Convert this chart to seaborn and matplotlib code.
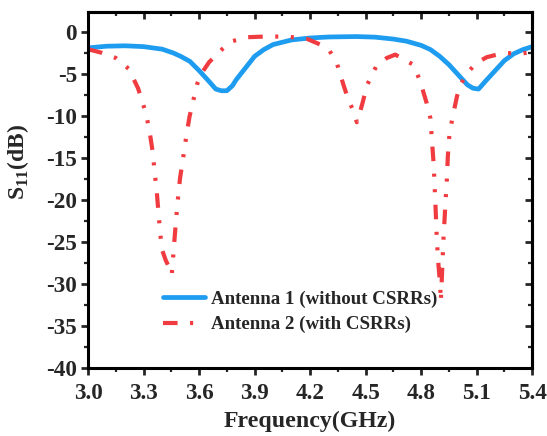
import numpy as np
import pandas as pd
import matplotlib
matplotlib.use("Agg")
import matplotlib.pyplot as plt
import seaborn as sns
from matplotlib.ticker import MultipleLocator

# Antenna 1 (without CSRRs)
freq1 = [3.0, 3.1, 3.2, 3.3, 3.4, 3.46, 3.5, 3.55, 3.6, 3.65, 3.69, 3.72, 3.75, 3.78, 3.8,
         3.85, 3.9, 3.95, 4.0, 4.1, 4.2, 4.3, 4.45, 4.55, 4.65, 4.72, 4.8, 4.85, 4.9,
         4.95, 5.0, 5.05, 5.08, 5.11, 5.15, 5.2, 5.25, 5.3, 5.35, 5.4]
s11_1 = [-1.9, -1.7, -1.65, -1.75, -2.05, -2.5, -2.9, -3.5, -4.6, -5.8, -6.8, -7.0, -7.0, -6.4, -5.7,
         -4.3, -2.9, -2.1, -1.5, -0.95, -0.72, -0.6, -0.55, -0.62, -0.85, -1.1, -1.6, -2.1, -2.9,
         -3.9, -5.1, -6.3, -6.7, -6.8, -5.8, -4.6, -3.4, -2.6, -2.1, -1.75]

# Antenna 2 (with CSRRs)
freq2 = [3.0, 3.07, 3.15, 3.22, 3.27, 3.31, 3.33, 3.35, 3.36, 3.37, 3.38, 3.39, 3.40, 3.42,
         3.44, 3.452, 3.46, 3.467, 3.476, 3.488, 3.497, 3.515, 3.533, 3.548, 3.569, 3.591,
         3.614, 3.654, 3.73, 3.77, 3.86, 3.95, 4.07, 4.18, 4.26, 4.30, 4.344, 4.38, 4.407,
         4.44, 4.452, 4.47, 4.485, 4.506, 4.557, 4.614, 4.66, 4.72, 4.758, 4.795, 4.83, 4.85,
         4.858, 4.867, 4.876, 4.885, 4.894, 4.903, 4.906, 4.912, 4.92, 4.93, 4.939, 4.944,
         4.953, 4.97, 4.993, 5.01, 5.043, 5.065, 5.097, 5.155, 5.21, 5.254, 5.33, 5.4]
s11_2 = [-2.06, -2.46, -3.1, -4.4, -6.7, -9.5, -11.5, -14.4, -16.8, -18.7, -21.4, -24.0, -25.95,
         -27.2, -28.1, -28.9, -26.7, -24.7, -22.2, -19.3, -17.4, -14.8, -12.1, -10.1, -8.1, -6.1,
         -4.9, -3.6, -1.94, -1.15, -0.63, -0.55, -0.55, -0.8, -1.55, -2.06, -3.7, -6.3, -8.1,
         -9.7, -10.75, -9.5, -8.3, -6.4, -4.1, -3.1, -2.7, -3.45, -3.9, -5.9, -8.5, -10.3,
         -12.9, -15.6, -20.0, -25.0, -27.9, -30.3, -32.1, -29.1, -24.8, -20.8, -17.4, -14.8,
         -12.1, -10.1, -7.7, -6.3, -5.2, -4.5, -3.7, -3.0, -2.7, -2.5, -2.6, -2.4]

labels = ["Antenna 1 (without CSRRs)", "Antenna 2 (with CSRRs)"]
colors = ["#1e9cf0", "#f03c40"]

sns.set_style("ticks")
plt.rcParams["font.family"] = ["Liberation Serif", "DejaVu Serif"]
plt.rcParams["font.weight"] = "bold"
plt.rcParams["axes.unicode_minus"] = False
plt.rcParams["mathtext.fontset"] = "custom"
plt.rcParams["mathtext.rm"] = "Liberation Serif:bold"
plt.rcParams["mathtext.bf"] = "Liberation Serif:bold"
plt.rcParams["lines.scale_dashes"] = False

fig = plt.figure(figsize=(5.47, 4.36), dpi=100)
ax = fig.add_axes([0.161, 0.156, 0.812, 0.817])

sns.lineplot(x=freq1, y=s11_1, ax=ax, color=colors[0], lw=3.4, label=labels[0])
sns.lineplot(x=freq2, y=s11_2, ax=ax, color=colors[1], lw=3.0, label=labels[1])
# dash-dot-dot, long gaps
ax.lines[1].set_linestyle((0, (10.5, 9.0, 2.2, 9.0, 2.2, 9.0)))

ax.set_xlim(3.0, 5.4)
ax.set_ylim(-40, 2.4)
ax.xaxis.set_major_locator(MultipleLocator(0.3))
ax.xaxis.set_minor_locator(MultipleLocator(0.15))
ax.yaxis.set_major_locator(MultipleLocator(5))
ax.yaxis.set_minor_locator(MultipleLocator(2.5))
ax.xaxis.set_major_formatter(matplotlib.ticker.FormatStrFormatter("%.1f"))

for s in ax.spines.values():
    s.set_linewidth(2.2)
    s.set_color("black")
ax.tick_params(which="major", direction="out", length=5, width=2, labelsize=16.7)
ax.tick_params(axis="x", which="major", pad=6)
ax.tick_params(axis="y", which="major", pad=3)
ax.tick_params(which="minor", direction="out", length=3, width=1.6)

topax = ax.secondary_xaxis("top")
topax.xaxis.set_major_locator(MultipleLocator(0.3))
topax.xaxis.set_minor_locator(MultipleLocator(0.15))
topax.tick_params(which="major", direction="in", length=5, width=2, labeltop=False)
topax.tick_params(which="minor", direction="in", length=3, width=1.6)
topax.spines["top"].set_linewidth(2.2)

rightax = ax.secondary_yaxis("right")
rightax.yaxis.set_major_locator(MultipleLocator(5))
rightax.yaxis.set_minor_locator(MultipleLocator(2.5))
rightax.tick_params(which="major", direction="in", length=5, width=2, labelright=False)
rightax.tick_params(which="minor", direction="in", length=3, width=1.6)
rightax.spines["right"].set_linewidth(2.2)

ax.set_xlabel("Frequency(GHz)", fontsize=17.2, fontweight="bold", labelpad=5)
ax.set_ylabel(r"S$_{\mathbf{11}}$(dB)", fontsize=17, fontweight="bold")
ax.yaxis.set_label_coords(-0.128, 0.58)

ax.legend(loc="upper left", bbox_to_anchor=(0.169, 0.218), frameon=False,
          prop={"family": "Liberation Serif", "weight": "bold", "size": 13.6},
          handlelength=2.2, handletextpad=0.35, labelspacing=0.45, borderpad=0,
          borderaxespad=0)

fig.savefig("out.png", dpi=100)
